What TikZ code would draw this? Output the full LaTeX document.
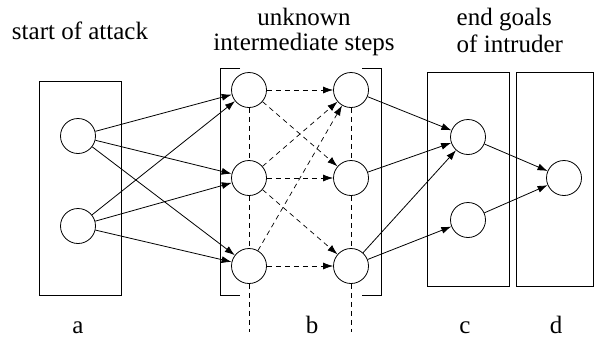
\documentclass[tikz,border=0pt]{standalone}
\usepackage{fontspec}
\setmainfont{Liberation Serif}
\usetikzlibrary{arrows.meta, positioning}
\tikzset{
  state/.style = {circle, draw, minimum size=35pt, inner sep=0pt},
  link/.style = {-{Latex[length=10pt,width=7pt]}, line width=0.8pt},
  guess/.style = {-{Latex[length=10pt,width=7pt]}, dashed, dash pattern=on 5pt off 4pt, line width=0.7pt},
  hint/.style = {dashed, dash pattern=on 5pt off 4pt, line width=0.7pt},
  frame/.style = {draw, line width=0.8pt}
}

\begin{document}
\begin{tikzpicture}[x=1pt, y=-1pt, line width=0.8pt, font=\fontsize{25}{25}\selectfont]
  \useasboundingbox (0,0) rectangle (594,338);

  % stage boxes
  \draw[frame] (39,81) rectangle (121,295);
  \draw[frame] (240,68) -- (220,68) -- (220,295) -- (240,295);
  \draw[frame] (362,68) -- (381,68) -- (381,295) -- (362,295);
  \draw[frame] (427,72) rectangle (509,286);
  \draw[frame] (516,72) rectangle (593.5,286);

  % titles
  \node[anchor=base] (ta) at (80,39) {start of attack};
  \node[anchor=base, align=center] (tb) at (304,50) {unknown\\intermediate steps};
  \node[anchor=base west, align=left, font=\fontsize{25}{27}\selectfont] (tc) at (453,52) {end goals\\of intruder};

  % states
  \node[state] (a1) at (78,136) {};
  \node[state] (a2) at (78,226) {};

  \node[state] (b1) at (249,90) {};
  \node[state] (b2) at (249,178) {};
  \node[state] (b3) at (249,266) {};
  \node[state] (b4) at (351,90) {};
  \node[state] (b5) at (351,178) {};
  \node[state] (b6) at (351,266) {};

  \node[state] (c1) at (468,137) {};
  \node[state] (c2) at (468,220) {};

  \node[state] (d1) at (564,178) {};

  \coordinate (e1) at (249,332);
  \coordinate (e2) at (351,332);

  % stage labels
  \node[anchor=base] (la) at (78,333) {a};
  \node[anchor=base] (lb) at (312,333) {b};
  \node[anchor=base] (lc) at (465,333) {c};
  \node[anchor=base] (ld) at (556,333) {d};

  % a -> b
  \foreach \s in {a1,a2}
    \foreach \t in {b1,b2,b3}
      \draw[link] (\s) -- (\t);

  % inside b
  \draw[guess] (b1) -- (b4);
  \draw[guess] (b1) -- (b5);
  \draw[guess] (b2) -- (b4);
  \draw[guess] (b2) -- (b5);
  \draw[guess] (b2) -- (b6);
  \draw[guess] (b3) -- (b4);
  \draw[guess] (b3) -- (b6);
  \draw[hint] (b1) -- (b2) -- (b3) -- (e1);
  \draw[hint] (b4) -- (b5) -- (b6) -- (e2);

  % b -> c -> d
  \draw[link] (b4) -- (c1);
  \draw[link] (b5) -- (c1);
  \draw[link] (b6) -- (c1);
  \draw[link] (b6) -- (c2);
  \draw[link] (c1) -- (d1);
  \draw[link] (c2) -- (d1);
\end{tikzpicture}
\end{document}
